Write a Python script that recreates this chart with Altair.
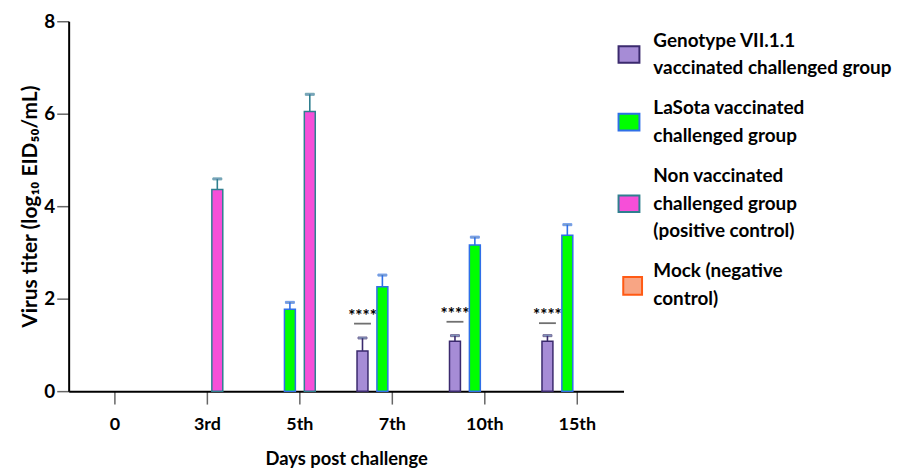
import altair as alt
import pandas as pd

days = ["0", "3rd", "5th", "7th", "10th", "15th"]
groups = [
    "Genotype VII.1.1|vaccinated challenged group",
    "LaSota vaccinated|challenged group",
    "Non vaccinated|challenged group|(positive control)",
    "Mock (negative|control)",
]
fill_colors = ["#a68cd6", "#00ff00", "#f64fd8", "#f8a584"]
stroke_colors = ["#3b2a6e", "#2f6fe8", "#2f7f8f", "#ff5a14"]

genotype_vals = [0, 0, 0, 0.87, 1.08, 1.08]
genotype_err = [0, 0, 0, 0.28, 0.12, 0.12]
lasota_vals = [0, 0, 1.77, 2.26, 3.16, 3.37]
lasota_err = [0, 0, 0.15, 0.25, 0.17, 0.23]
nonvacc_vals = [0, 4.36, 6.05, 0, 0, 0]
nonvacc_err = [0, 0.23, 0.37, 0, 0, 0]
mock_vals = [0, 0, 0, 0, 0, 0]
mock_err = [0, 0, 0, 0, 0, 0]

sig_days = ["7th", "10th", "15th"]
sig_y = [1.46, 1.50, 1.47]
sig_text = ["****", "****", "****"]

# legend swatch shapes (rectangles centred on the middle of each multi-line label)
legend_shapes = [
    "M-1,0.53H1V2.13H-1Z",
    "M-1,0.53H1V2.13H-1Z",
    "M-1,1.87H1V3.47H-1Z",
    "M-0.55,0.55H1.25V2.25H-0.55Z",
]

rows = []
for g, vals, errs in zip(groups, [genotype_vals, lasota_vals, nonvacc_vals, mock_vals],
                         [genotype_err, lasota_err, nonvacc_err, mock_err]):
    for d, v, e in zip(days, vals, errs):
        if v > 0:
            rows.append({"day": d, "group": g, "value": v, "upper": v + e})
df = pd.DataFrame(rows)
sig_df = pd.DataFrame({"day": sig_days, "y": sig_y, "txt": sig_text, "group": [groups[0]] * 3})

FONT = "Lato"
LABEL_EXPR = "split(datum.label, '|')"

x_enc = alt.X("day:N", sort=days, scale=alt.Scale(domain=days, paddingInner=0, paddingOuter=0),
              axis=alt.Axis(title="Days post challenge", labelAngle=0))
xo_enc = alt.XOffset("group:N", sort=groups,
                     scale=alt.Scale(domain=groups, paddingInner=0.45, paddingOuter=0.55))
y_scale = alt.Scale(domain=[0, 8], nice=False)

fill_enc = alt.Fill("group:N", sort=groups, scale=alt.Scale(domain=groups, range=fill_colors),
                    legend=alt.Legend(title=None, labelExpr=LABEL_EXPR))
stroke_enc = alt.Stroke("group:N", sort=groups, scale=alt.Scale(domain=groups, range=stroke_colors),
                        legend=alt.Legend(title=None, labelExpr=LABEL_EXPR))
shape_enc = alt.Shape("group:N", sort=groups, scale=alt.Scale(domain=groups, range=legend_shapes),
                      legend=alt.Legend(title=None, labelExpr=LABEL_EXPR))

base = alt.Chart(df)

bars = base.mark_bar(strokeWidth=1.5).encode(
    x=x_enc,
    xOffset=xo_enc,
    y=alt.Y("value:Q", scale=y_scale,
            axis=alt.Axis(title="Virus titer (log₁₀ EID₅₀/mL)", values=[0, 2, 4, 6, 8])),
    fill=fill_enc,
    stroke=stroke_enc,
)

legend_pts = base.mark_point(filled=True, strokeWidth=2, size=441, opacity=1).encode(
    x=x_enc, xOffset=xo_enc, y=alt.Y("value:Q", scale=y_scale),
    fill=fill_enc, stroke=stroke_enc, shape=shape_enc,
).transform_filter("false")

err_rule = base.mark_rule(strokeWidth=1.6).encode(
    x=x_enc, xOffset=xo_enc,
    y=alt.Y("value:Q", scale=y_scale), y2="upper:Q",
    stroke=stroke_enc,
)
err_cap = base.mark_tick(orient="horizontal", size=9, thickness=2).encode(
    x=x_enc, xOffset=xo_enc,
    y=alt.Y("upper:Q", scale=y_scale),
    stroke=stroke_enc,
)

sig = alt.Chart(sig_df)
sig_line = sig.mark_tick(orient="horizontal", size=17, thickness=1.8, color="#333333").encode(
    x=x_enc, xOffset=xo_enc, y=alt.Y("y:Q", scale=y_scale),
)
sig_txt = sig.mark_text(fontSize=17, fontWeight="bold", font=FONT, dy=-7, color="black").encode(
    x=x_enc, xOffset=xo_enc, y=alt.Y("y:Q", scale=y_scale), text="txt:N",
)

chart = alt.layer(bars, legend_pts, err_rule, err_cap, sig_line, sig_txt).properties(
    width=558, height=372, padding={"left": 11, "top": 3, "right": 0, "bottom": 0}
).configure(
    style={"guide-label": {"lineHeight": 28}}
).configure_view(stroke=None).configure_axis(
    grid=False,
    domainColor="black",
    domainWidth=2,
    tickColor="#666666",
    tickWidth=1.5,
    labelFont=FONT,
    labelFontWeight="bold",
    labelColor="black",
    titleFont=FONT,
    titleFontWeight="bold",
    titleColor="black",
).configure_axisY(
    tickSize=12, labelPadding=2, titlePadding=3, labelFontSize=19, titleFontSize=21,
).configure_axisX(
    tickSize=13, labelPadding=12, titlePadding=16, labelFontSize=18, titleFontSize=18.5,
).configure_legend(
    orient="none",
    legendX=552,
    legendY=8,
    padding=0,
    symbolSize=441,
    symbolStrokeWidth=2,
    labelFont=FONT,
    labelFontSize=19,
    labelFontWeight="bold",
    labelColor="black",
    labelLimit=400,
    labelOffset=13,
    rowPadding=18,
)

chart.save("out.html", embed_options={"renderer": "svg", "actions": False})
